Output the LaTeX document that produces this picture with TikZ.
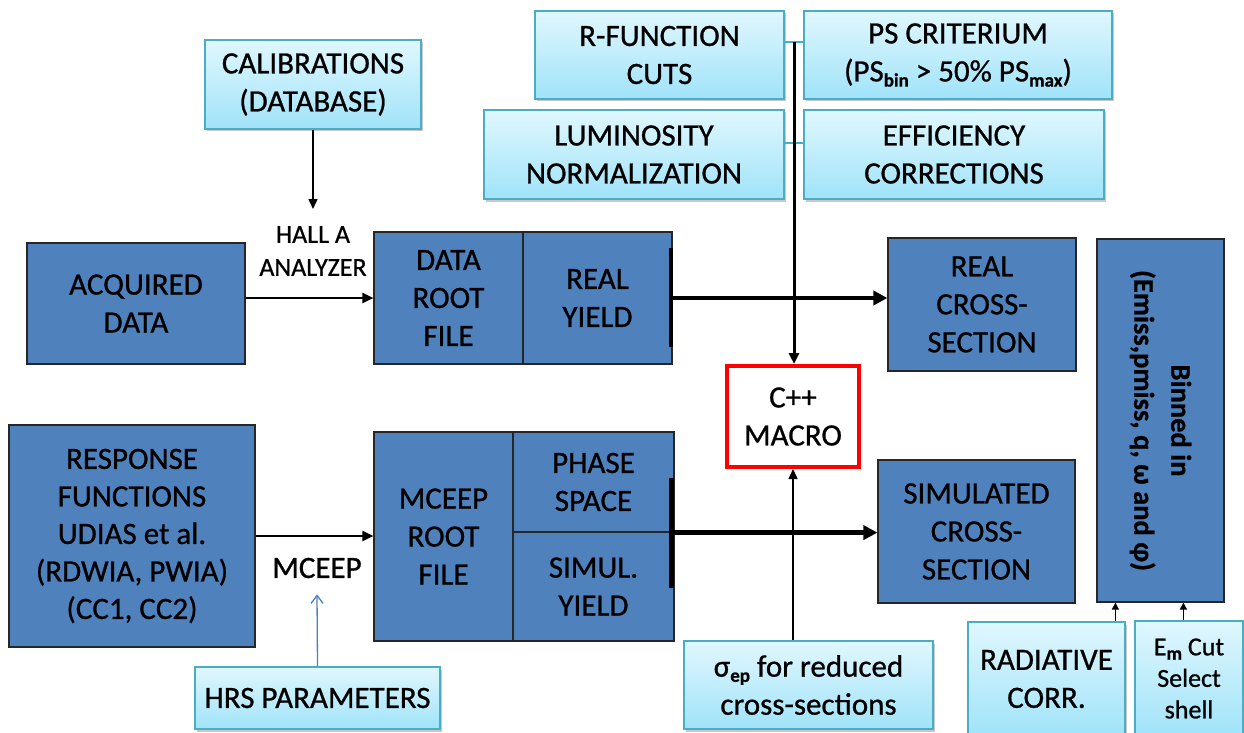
\documentclass[tikz,border=0pt]{standalone}
\usepackage{fontspec}
\setmainfont{Carlito}[RawFeature={embolden=0.8}]
\usetikzlibrary{arrows.meta,shadows,calc}
\definecolor{dkblue}{RGB}{79,129,189}
\definecolor{ltop}{RGB}{224,247,254}
\definecolor{lbot}{RGB}{160,227,249}
\definecolor{lbord}{RGB}{75,172,198}
\definecolor{hrsblue}{RGB}{79,129,189}
\newcommand\sbx[1]{\raisebox{-0.35ex}{\fontsize{19}{19}\selectfont\bfseries #1}}
\begin{document}
\begin{tikzpicture}[x=1pt,y=1pt,
  every node/.style={font=\fontsize{31}{38}\selectfont, align=center, inner sep=0pt},
  dbox/.style={draw=black!85, line width=1.2pt, fill=dkblue},
  lbox/.style={draw=lbord, line width=1.2pt, top color=ltop, bottom color=lbot,
    drop shadow={shadow xshift=2pt, shadow yshift=-2.5pt, opacity=0.3, fill=black!70}},
  macrobox/.style={draw=red, line width=4pt, fill=white},
  thinarrow/.style={draw=black, line width=1.5pt, -{Triangle[length=10pt,width=9pt]}},
  midarrow/.style={draw=black, line width=2pt, -{Triangle[length=11pt,width=10pt]}},
  thickarrow/.style={draw=black, line width=4.5pt, -{Triangle[length=14pt,width=14pt]}},
  barline/.style={draw=black, line width=4.5pt},
  vline/.style={draw=black, line width=3pt, -{Triangle[length=11pt,width=10pt]}},
  stub/.style={draw=lbord, line width=1.5pt},
  hrsarrow/.style={draw=hrsblue, line width=1.3pt, -{Straight Barb[length=8pt,width=12pt]}},
  smallarrow/.style={draw=black, line width=1.3pt, -{Triangle[length=7pt,width=7pt]}}
]
\useasboundingbox (0,-733) rectangle (1244,0);
\fill[white] (0,-733) rectangle (1244,0);

% light blue boxes
\node[lbox, minimum width=216pt, minimum height=89pt] (calib) at (313,-84.5) {CALIBRATIONS\\(DATABASE)};
\node[lbox, minimum width=249pt, minimum height=88pt] (rfunc) at (659.5,-55) {R-FUNCTION\\CUTS};
\node[lbox, minimum width=308pt, minimum height=88pt] (ps) at (958,-55) {PS CRITERIUM\\(PS\sbx{bin} > 50\% PS\sbx{max})};
\node[lbox, minimum width=300pt, minimum height=89pt] (lumi) at (634,-154.5) {LUMINOSITY\\NORMALIZATION};
\node[lbox, minimum width=300pt, minimum height=89pt] (eff) at (954,-154.5) {EFFICIENCY\\CORRECTIONS};
\node[lbox, minimum width=245pt, minimum height=62pt] (hrs) at (317.5,-698) {HRS PARAMETERS};
\node[lbox, minimum width=249pt, minimum height=88pt] (sigma) at (808.5,-685) {σ\sbx{ep} for reduced\\cross-sections};
\node[lbox, minimum width=157pt, minimum height=114pt] (rad) at (1046.5,-679) {RADIATIVE\\CORR.};
\node[lbox, minimum width=108pt, minimum height=115pt, font=\fontsize{26}{31.5}\selectfont] (em) at (1189,-678.5) {E\sbx{m} Cut\\Select\\shell};

% dark blue boxes
\node[dbox, minimum width=218pt, minimum height=121pt] (acq) at (136,-303.5) {ACQUIRED\\DATA};
\node[dbox, minimum width=149pt, minimum height=132pt] (dataroot) at (448.5,-298) {DATA\\ROOT\\FILE};
\node[dbox, minimum width=149pt, minimum height=132pt] (realyield) at (597.5,-298) {REAL\\YIELD};
\node[dbox, minimum width=188pt, minimum height=133pt] (realcs) at (982,-304.5) {REAL\\CROSS-\\SECTION};
\node[dbox, minimum width=246pt, minimum height=222pt, font=\fontsize{31}{37.5}\selectfont] (response) at (132,-536) {RESPONSE\\FUNCTIONS\\UDIAS et al.\\(RDWIA, PWIA)\\(CC1, CC2)};
\node[dbox, minimum width=139pt, minimum height=209pt] (mceeproot) at (443.5,-536.5) {MCEEP\\ROOT\\FILE};
\node[dbox, minimum width=161pt, minimum height=100pt] (phase) at (593.5,-482) {PHASE\\SPACE};
\node[dbox, minimum width=161pt, minimum height=109pt] (simul) at (593.5,-586.5) {SIMUL.\\YIELD};
\node[dbox, minimum width=197pt, minimum height=143pt] (simcs) at (976.5,-531.5) {SIMULATED\\CROSS-\\SECTION};
\node[dbox, minimum width=127pt, minimum height=363pt] (binned) at (1160.5,-420.5) {};
\node[rotate=-90, font=\fontsize{28.5}{37}\selectfont\bfseries] (binnedtxt) at (binned.center) {Binned in\\(Emiss,pmiss, q, ω and φ)};

% macro
\node[macrobox, minimum width=132pt, minimum height=101pt] (macro) at (793,-416.5) {C++\\MACRO};

% labels
\node[font=\fontsize{26}{33}\selectfont] (hall) at (313,-251) {HALL A\\ANALYZER};
\node (mceeplbl) at (317,-568) {MCEEP};

% connectors
\coordinate (hallin) at (313,-209);
\draw[thinarrow] (calib.south) -- (hallin);
\draw[midarrow] (acq.east |- dataroot.west) -- (dataroot.west);
\draw[barline] ([shift={(-1.5,50)}]realyield.east) -- ([shift={(-1.5,-49)}]realyield.east);
\draw[thickarrow] ([xshift=-1.5pt]realyield.east) -- (realyield.east -| realcs.west);
\draw[barline] ([shift={(-3,55)}]phase.south east) -- ([shift={(-3,-55)}]phase.south east);
\draw[thickarrow] ([xshift=-3pt]phase.south east) -- (phase.south east -| simcs.west);
\draw[midarrow] (response.east) -- (response.east -| mceeproot.west);
\draw[hrsarrow] (hrs.north) -- ([yshift=-16pt]mceeplbl.south);

\coordinate (vtop) at (794,-42);
\draw[stub] (rfunc.east |- vtop) -- (ps.west |- vtop);
\draw[stub] ([yshift=11.5pt]lumi.east) -- ([yshift=11.5pt]eff.west);
\draw[vline] (vtop) -- (vtop |- macro.north);
\draw[thinarrow] (sigma.north -| macro.south) -- (macro.south);

\path ([xshift=19pt]binned.south west) coordinate (b1)
      ([xshift=87pt]binned.south west) coordinate (b2);
\draw[smallarrow] (rad.north -| b1) -- (b1);
\draw[smallarrow] (em.north -| b2) -- (b2);
\end{tikzpicture}
\end{document}
